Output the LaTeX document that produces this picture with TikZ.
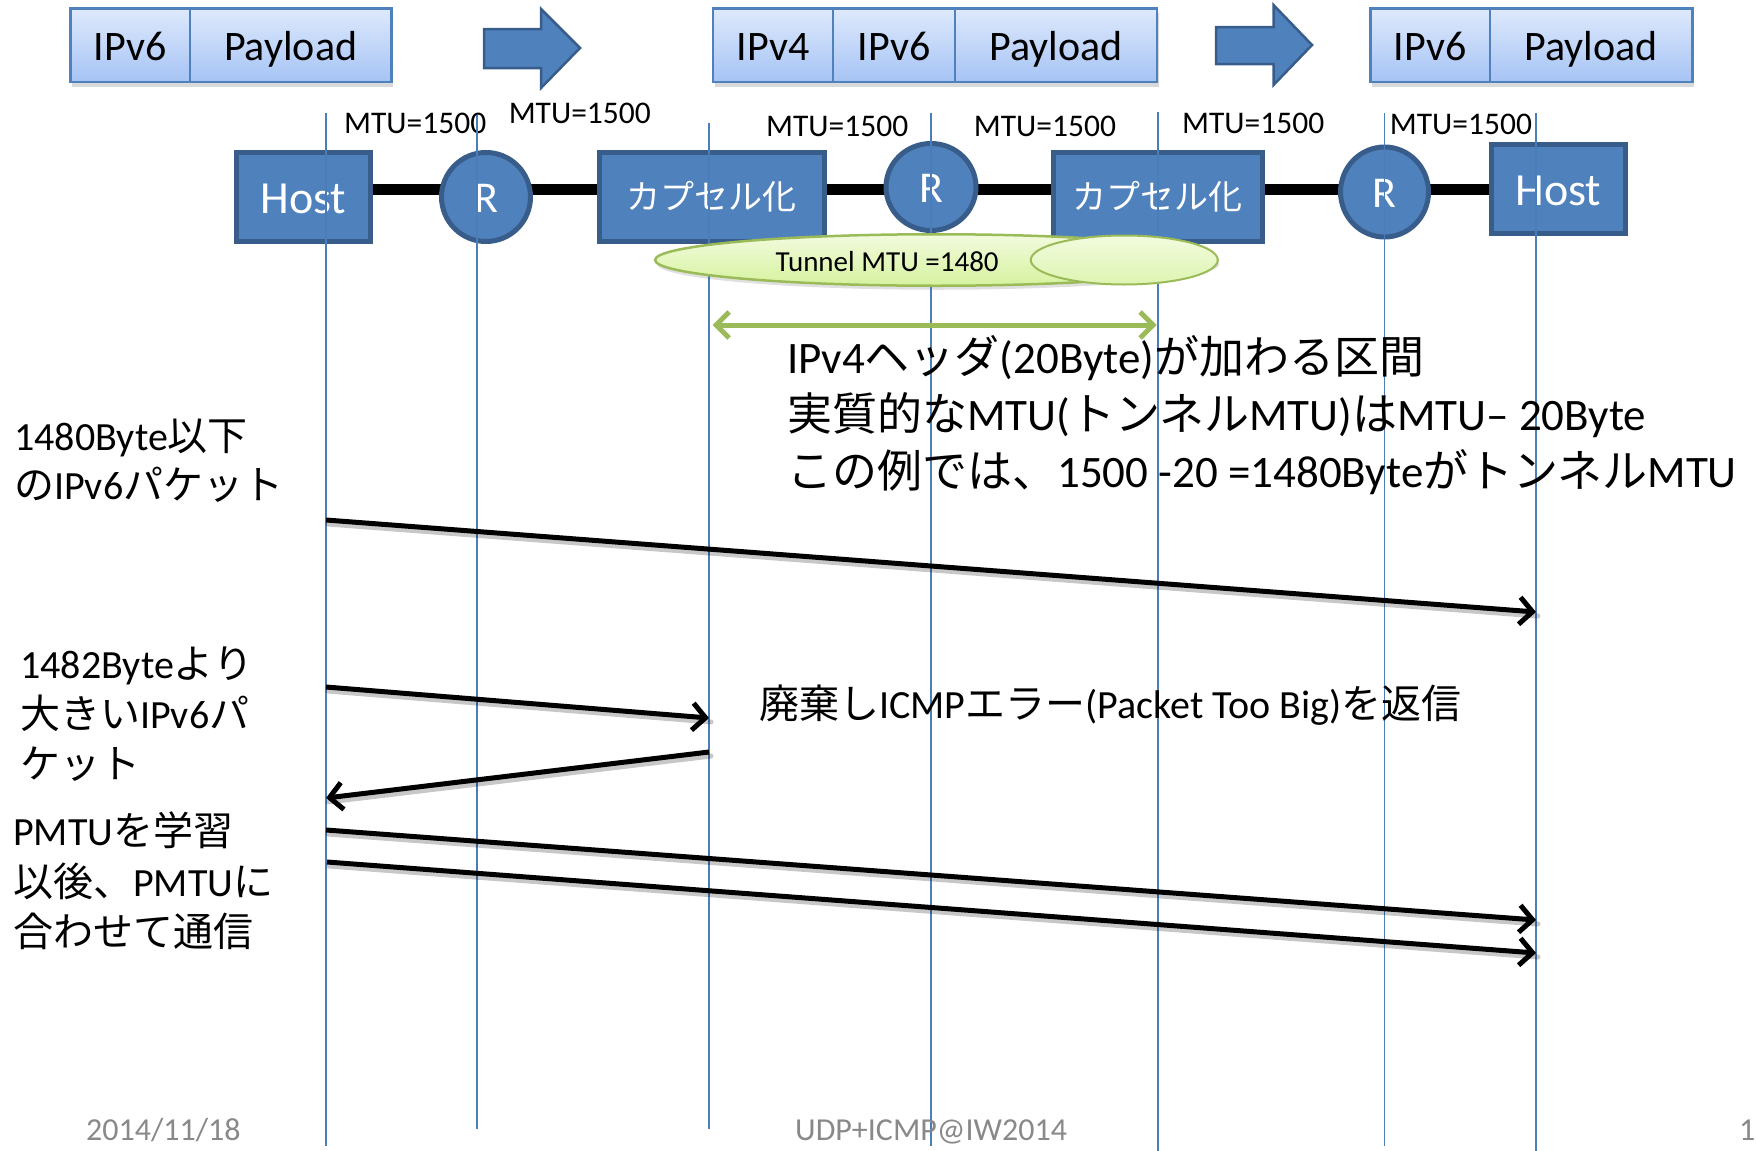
\documentclass[tikz,border=0pt]{standalone}
\usepackage{fontspec}
\setmainfont{Carlito}
\newfontfamily\jp{Noto Sans CJK JP}
\usetikzlibrary{shapes.geometric,arrows.meta,shadows,backgrounds}
\definecolor{nblue}{RGB}{79,129,189}
\definecolor{nborder}{RGB}{56,93,138}
\definecolor{pkttop}{RGB}{222,233,252}
\definecolor{pktbot}{RGB}{166,196,245}
\definecolor{lifeblue}{RGB}{74,126,187}
\definecolor{gborder}{RGB}{155,187,89}
\definecolor{gtop}{RGB}{242,251,222}
\definecolor{gbot}{RGB}{214,242,158}
\definecolor{footgray}{RGB}{137,137,137}
\newcommand\setfs[1]{\fontsize{#1}{#1}\selectfont}
\begin{document}
\begin{tikzpicture}[x=1pt,y=-1pt,
  pkt/.style={rectangle, draw=nblue, line width=2.5pt, top color=pkttop, bottom color=pktbot,
    minimum height=73.5pt, inner sep=0pt, outer sep=0pt, anchor=west, text height=30pt, text depth=0pt,
    font=\setfs{42}, drop shadow={shadow xshift=2pt, shadow yshift=-5pt, opacity=0.25, fill=black!60}},
  barrow/.style={fill=nblue, draw=nborder, line width=2.5pt, line join=miter},
  netbox/.style={rectangle, fill=nblue, draw=nborder, line width=5pt, text=white, inner sep=0pt, minimum height=89pt},
  rnode/.style={ellipse, fill=nblue, draw=nborder, line width=5pt, text=white, inner sep=0pt,
    font=\setfs{44}, text height=30pt, text depth=0pt},
  link/.style={line width=11pt, black},
  life/.style={draw=lifeblue, line width=1.3pt},
  txt/.style={inner sep=0pt, anchor=base west},
  mtu/.style={txt, font=\setfs{31.5}},
  msgshadow/.style={line width=5pt, black, opacity=0.22, line cap=round, transform canvas={xshift=2pt, yshift=-4pt}},
  msg/.style={line width=5pt, black, -{Straight Barb[length=13pt,width=27pt]}},
  garrow/.style={line width=5pt, gborder, {Straight Barb[length=13pt,width=26pt]}-{Straight Barb[length=13pt,width=26pt]}}
]
\useasboundingbox (0,0) rectangle (1756,1151);

% packet boxes
\node[pkt, minimum width=119.75pt] (c11) at (70.25,45) {IPv6};
\node[pkt, minimum width=201.4pt] (c12) at (c11.east) {Payload};
\node[pkt, minimum width=120pt] (c21) at (713,45) {IPv4};
\node[pkt, minimum width=122pt] (c22) at (c21.east) {IPv6};
\node[pkt, minimum width=201.75pt] (c23) at (c22.east) {Payload};
\node[pkt, minimum width=119.75pt] (c31) at (1370.25,45) {IPv6};
\node[pkt, minimum width=202.4pt] (c32) at (c31.east) {Payload};

% block arrows
\draw[barrow] (484,29) -- (541,29) -- (541,9) -- (580,48) -- (541,88) -- (541,68) -- (484,68) -- cycle;
\draw[barrow] (1216,27) -- (1273.5,27) -- (1273.5,5) -- (1312,45) -- (1273.5,85) -- (1273.5,64) -- (1216,64) -- cycle;

% network nodes
\node[netbox, minimum width=134pt, font=\setfs{46}, text height=32pt, text depth=0pt] (host) at (303.5,197) {Host};
\node[rnode, minimum width=89pt, minimum height=89pt] (r1) at (486,197) {R};
\node[netbox, minimum width=224.6pt, font=\setfs{34}\jp] (cap1) at (711.8,197) {カプセル化};
\node[rnode, minimum width=90pt, minimum height=87pt] (r2) at (931,187) {R};
\node[netbox, minimum width=209.5pt, font=\setfs{34}\jp] (cap2) at (1157.75,197) {カプセル化};
\node[rnode, minimum width=88pt, minimum height=90pt] (r3) at (1384.5,192) {R};
\node[netbox, minimum width=134.5pt, minimum height=89pt, font=\setfs{46}, text height=32pt, text depth=0pt] (host2) at (1558.25,189) {Host};
\coordinate (lk) at (0,189);
\begin{scope}[on background layer]
\draw[link] (host.center |- lk) -- (host2.center |- lk);
\end{scope}

% MTU labels
\node[mtu] (mtu1) at (344,133.3) {MTU=1500};
\node[mtu] (mtu2) at (508.6,123) {MTU=1500};
\node[mtu] (mtu3) at (766,136.7) {MTU=1500};
\node[mtu] (mtu4) at (973.7,136.5) {MTU=1500};
\node[mtu] (mtu5) at (1182,133.3) {MTU=1500};
\node[mtu] (mtu6) at (1389.7,134) {MTU=1500};

% lifelines
\coordinate (l1t) at (326,113);   \coordinate (l1b) at (326,1146);
\coordinate (l2t) at (477,115);   \coordinate (l2b) at (477,1129);
\coordinate (l3t) at (709,123);   \coordinate (l3b) at (709,1129);
\coordinate (l4t) at (931,113);   \coordinate (l4b) at (931,1146);
\coordinate (l5t) at (1158,112);  \coordinate (l5b) at (1158,1151);
\coordinate (l6t) at (1384.5,113);\coordinate (l6b) at (1384.5,1146);
\coordinate (l7t) at (1536,113);  \coordinate (l7b) at (1536,1151);
\foreach \i in {1,...,7} {\draw[life] (l\i t) -- (l\i b);}

% tunnel
\node[ellipse, draw=gborder, line width=2.5pt, top color=gtop, bottom color=gbot, minimum width=562.5pt, minimum height=51.5pt, inner sep=0pt,
  drop shadow={shadow xshift=2pt, shadow yshift=-4pt, opacity=0.2, fill=black!60}] (tun) at (936.3,260) {};
\node[ellipse, draw=gborder, line width=2pt, top color=gtop, bottom color=gbot!80!white, minimum width=187pt, minimum height=49pt, inner sep=0pt] (tuncap) at (1124.25,260) {};
\node[txt, font=\setfs{29}] (tuntxt) at (775.5,271.5) {Tunnel MTU =1480};

% green span arrow
\coordinate (g1) at (712.6,325);
\coordinate (g2) at (1156.6,325);
\draw[garrow] (g1) -- (g2);

% note
\node[txt, font=\setfs{45}] (n1) at (787,373) {IPv4{\jp ヘッダ}(20Byte){\jp が加わる区間}};
\node[txt, font=\setfs{45}] (n2) at (787,430) {{\jp 実質的な}MTU({\jp トンネル}MTU){\jp は}MTU– 20Byte};
\node[txt, font=\setfs{45}] (n3) at (787,487) {{\jp この例では、}1500 -20 =1480Byte{\jp がトンネル}MTU};

% left labels
\node[txt, font=\setfs{40}] (a1) at (14,450) {1480Byte{\jp 以下}};
\node[txt, font=\setfs{40}] (a2) at (14,499) {{\jp の}IPv6{\jp パケット}};
\node[txt, font=\setfs{40}] (b1) at (20,678) {1482Byte{\jp より}};
\node[txt, font=\setfs{40}] (b2) at (20,728) {{\jp 大きい}IPv6{\jp パ}};
\node[txt, font=\setfs{40}] (b3) at (20,778) {{\jp ケット}};
\node[txt, font=\setfs{40}] (p1) at (13,845) {PMTU{\jp を学習}};
\node[txt, font=\setfs{40}] (p2) at (13,896) {{\jp 以後、}PMTU{\jp に}};
\node[txt, font=\setfs{40}] (p3) at (13,946) {{\jp 合わせて通信}};
\node[txt, font=\setfs{40}] (icmp) at (759,718) {{\jp 廃棄し}ICMP{\jp エラー}(Packet Too Big){\jp を返信}};

% messages
\coordinate (m1s) at (326,520);  \coordinate (m1e) at (1536,612);
\coordinate (m2s) at (326,687);  \coordinate (m2e) at (709,718);
\coordinate (m3s) at (709,752);  \coordinate (m3e) at (326,798);
\coordinate (m4s) at (326,830);  \coordinate (m4e) at (1536,920);
\coordinate (m5s) at (327,862);  \coordinate (m5e) at (1536,953);
\foreach \i in {1,...,5} {\draw[msgshadow] (m\i s) -- (m\i e);}
\foreach \i in {1,...,5} {\draw[msg] (m\i s) -- (m\i e);}

% footer
\node[txt, font=\setfs{32}, text=footgray] (date) at (86,1140) {2014/11/18};
\node[txt, font=\setfs{32}, text=footgray] (conf) at (795,1140) {UDP+ICMP@IW2014};
\node[txt, font=\setfs{32}, text=footgray] (page) at (1739,1140) {1};
\end{tikzpicture}
\end{document}
